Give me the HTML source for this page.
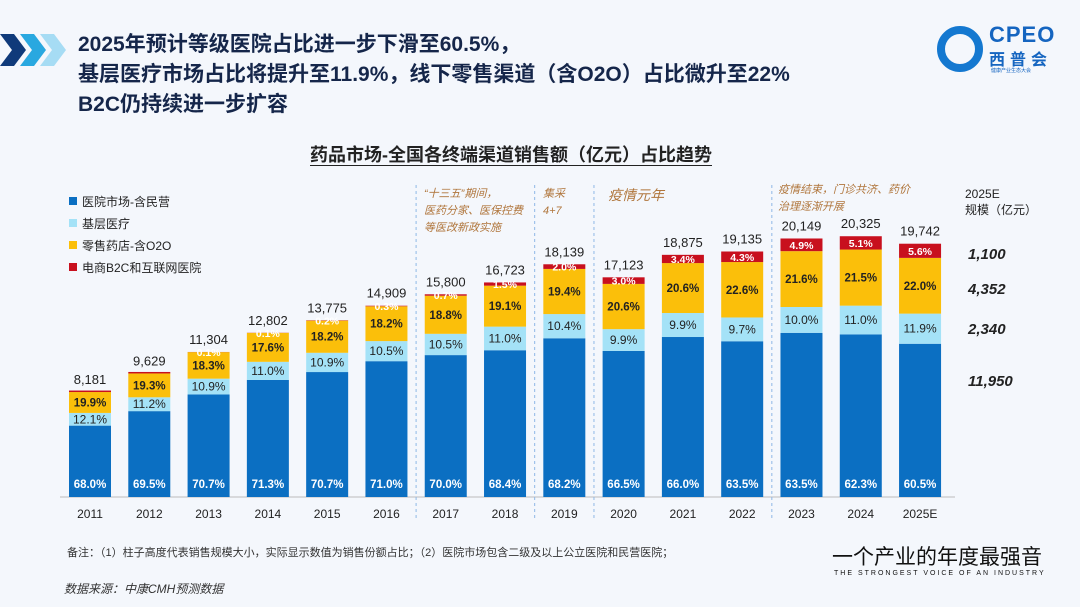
<!DOCTYPE html>
<html lang="zh">
<head>
<meta charset="utf-8">
<style>
  html,body{margin:0;padding:0;}
  body{width:1080px;height:607px;overflow:hidden;background:#f4f7fc;font-family:"Liberation Sans","Noto Sans CJK SC",sans-serif;position:relative;}
  .abs{position:absolute;white-space:nowrap;}
  .head{left:78px;font-size:21px;font-weight:bold;color:#15264a;line-height:30px;}
  .note{color:#b0763c;font-style:italic;font-size:11px;line-height:17px;}
</style>
</head>
<body>
<svg class="abs" style="left:0;top:32px" width="72" height="36">
  <polygon points="0,2 14,2 26,18 14,34 0,34 12,18" fill="#0f3a7a"/>
  <polygon points="20,2 34,2 46,18 34,34 20,34 32,18" fill="#29a8e0"/>
  <polygon points="40,2 54,2 66,18 54,34 40,34 52,18" fill="#a6dcf4"/>
</svg>
<div class="abs head" style="top:30px">2025年预计等级医院占比进一步下滑至60.5%，</div>
<div class="abs head" style="top:60px">基层医疗市场占比将提升至11.9%，线下零售渠道（含O2O）占比微升至22%</div>
<div class="abs head" style="top:90px">B2C仍持续进一步扩容</div>

<div class="abs" style="left:935px;top:24px;width:130px;height:50px">
  <div style="position:absolute;left:2px;top:2px;width:30px;height:30px;border-radius:50%;border:8px solid #1478d0;"></div>
  <div style="position:absolute;left:54px;top:-2px;font-size:22px;font-weight:bold;color:#1565c0;letter-spacing:1px;">CPEO</div>
  <div style="position:absolute;left:54px;top:22px;font-size:16px;font-weight:bold;color:#1565c0;letter-spacing:5px;">西普会</div>
  <div style="position:absolute;left:56px;top:43px;font-size:5px;color:#1565c0;">健康产业生态大会</div>
</div>

<div class="abs" style="left:310px;top:141px;font-size:18px;font-weight:bold;color:#222;text-decoration:underline;text-underline-offset:4px;">药品市场-全国各终端渠道销售额（亿元）占比趋势</div>

<svg id="chart" class="abs" style="left:0;top:0" width="1080" height="607"></svg>

<div class="abs note" style="left:424px;top:186px">“十三五”期间，<br>医药分家、医保控费<br>等医改新政实施</div>
<div class="abs note" style="left:543px;top:186px">集采<br>4+7</div>
<div class="abs note" style="left:608px;top:187px;font-size:14px">疫情元年</div>
<div class="abs note" style="left:778px;top:182px">疫情结束，门诊共济、药价<br>治理逐渐开展</div>

<div class="abs" style="left:965px;top:186px;font-size:12px;color:#222;line-height:16px">2025E<br>规模（亿元）</div>

<div class="abs" style="left:67px;top:544px;font-size:11px;color:#333">备注：（1）柱子高度代表销售规模大小，实际显示数值为销售份额占比；（2）医院市场包含二级及以上公立医院和民营医院；</div>
<div class="abs" style="left:64px;top:580px;font-size:12px;color:#333;font-style:italic">数据来源：中康CMH预测数据</div>
<div class="abs" style="left:832px;top:541px;font-size:21px;color:#111;letter-spacing:0px">一个产业的年度最强音</div>
<div class="abs" style="left:834px;top:570px;font-size:7px;color:#111;letter-spacing:2px">THE STRONGEST VOICE OF AN INDUSTRY</div>

<script>
const years = ["2011","2012","2013","2014","2015","2016","2017","2018","2019","2020","2021","2022","2023","2024","2025E"];
const totals = [8181,9629,11304,12802,13775,14909,15800,16723,18139,17123,18875,19135,20149,20325,19742];
const hospital = [68.0,69.5,70.7,71.3,70.7,71.0,70.0,68.4,68.2,66.5,66.0,63.5,63.5,62.3,60.5];
const primary = [12.1,11.2,10.9,11.0,10.9,10.5,10.5,11.0,10.4,9.9,9.9,9.7,10.0,11.0,11.9];
const retail = [19.9,19.3,18.3,17.6,18.2,18.2,18.8,19.1,19.4,20.6,20.6,22.6,21.6,21.5,22.0];
const ecommerce = [0.0,0.0,0.1,0.1,0.2,0.3,0.7,1.5,2.0,3.0,3.4,4.3,4.9,5.1,5.6];
const seriesNames = ["医院市场-含民营","基层医疗","零售药店-含O2O","电商B2C和互联网医院"];
const scaleLabels = ["1,100","4,352","2,340","11,950"];
const separatorsAfter = [5,7,8,11];

const colors = ["#0b6fc2","#a4e2f7","#fbbf0a","#c8101e"];
const NS = "http://www.w3.org/2000/svg";
const svg = document.getElementById('chart');
const baseY = 497, x0 = 90, step = 59.29, bw = 42, k = 0.01283;
const xc = i => x0 + i*step;
const yh = v => v*k;

function mk(tag, attrs, parent){
  const e = document.createElementNS(NS, tag);
  for (const a in attrs) e.setAttribute(a, attrs[a]);
  (parent||svg).appendChild(e);
  return e;
}
function txt(s, attrs){ const t = mk('text', attrs); t.textContent = s; return t; }

const ax = mk('line',{x1:60,x2:955,y1:baseY,y2:baseY,stroke:'#bbb','stroke-width':1});



separatorsAfter.forEach(i => {
  const x = (xc(i)+xc(i+1))/2;
  const l = mk('line',{x1:x,x2:x,y1:185,y2:518,stroke:'#8fb8e6','stroke-width':1,'stroke-dasharray':'3,3'});
  
  
});

const series = [hospital, primary, retail, ecommerce];
years.forEach((yr, i) => {
  const H = yh(totals[i]);
  let y = baseY;
  const sum = hospital[i]+primary[i]+retail[i]+ecommerce[i];
  series.forEach((s, si) => {
    let h = H * s[i] / sum;
    if (si === 3 && s[i] === 0) h = 1.5;
    y -= h;
    const r = mk('rect',{x:xc(i)-bw/2,y:y,width:bw,height:h,fill:colors[si]});
    
    
    if (s[i] === 0) return;
    let ly = y + h/2 + 4;
    let fill = '#222', weight = 'bold', fs = 11.5;
    if (si === 0) { ly = 488; fill = '#fff'; }
    if (si === 1) { weight = 'normal'; fs = 12; }
    if (si === 3) { fill = '#fff'; fs = 10.5; ly = y + h/2 + 4; }
    const t = txt(s[i].toFixed(1)+'%',{x:xc(i),y:ly,'text-anchor':'middle','font-size':fs,'font-weight':weight,fill:fill,'font-family':'Liberation Sans, sans-serif'});
    
    
  });
  const tt = txt(totals[i].toLocaleString('en-US'),{x:xc(i),y:baseY-H-8,'text-anchor':'middle','font-size':13,fill:'#222'});
  
  
  const xl = txt(yr,{x:xc(i),y:518,'text-anchor':'middle','font-size':12,fill:'#222'});
  
  
});

seriesNames.forEach((n, i) => {
  const y = 202 + i*22;
  const sq = mk('rect',{x:69,y:y-5,width:8,height:8,fill:colors[i]});
  
  
  const t = txt(n,{x:82,y:y+4,'font-size':12,fill:'#222'});
  
  
});

const scaleY = [259,294,334,386];
scaleLabels.forEach((s, i) => {
  const t = txt(s,{x:968,y:scaleY[i],'font-size':15,'font-weight':'bold','font-style':'italic',fill:'#222'});
  
  
});
</script>
</body>
</html>
